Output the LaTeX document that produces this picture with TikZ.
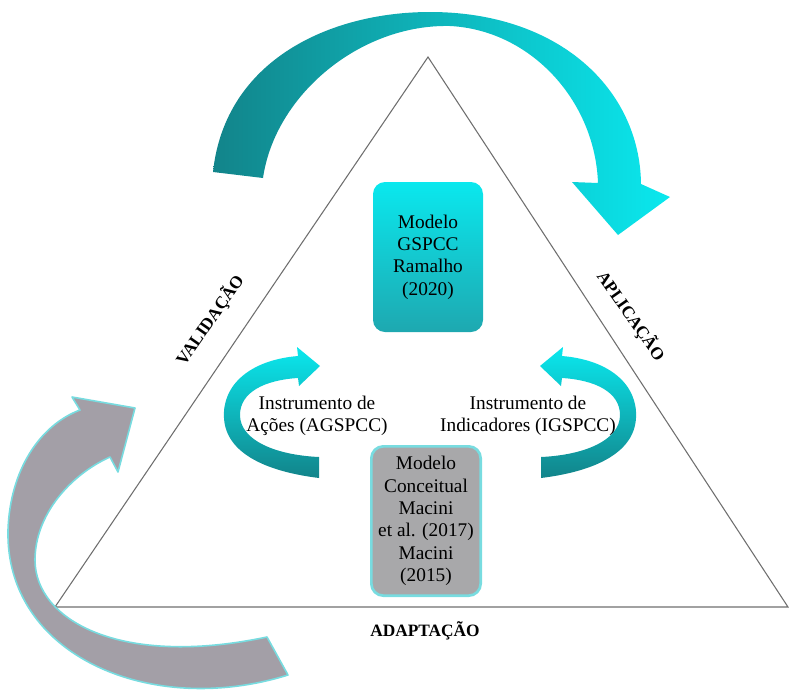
\documentclass[tikz,border=0pt]{standalone}
\usepackage{fontspec}
\setmainfont{Liberation Serif}
\definecolor{tealD}{RGB}{18,132,138}
\definecolor{cyanB}{RGB}{10,232,238}
\definecolor{tealM}{RGB}{30,168,176}
\definecolor{grayA}{RGB}{163,159,167}
\definecolor{grayB}{RGB}{168,168,170}
\definecolor{cyanL}{RGB}{120,220,224}
\definecolor{lineG}{RGB}{110,110,110}
\begin{document}
\begin{tikzpicture}[x=0.75pt,y=-0.75pt,
  tri/.style={draw=lineG, line width=0.8pt},
  boxtxt/.style={align=center, inner sep=0pt, font=\fontsize{14.5}{16.7}\selectfont},
  topbox/.style={boxtxt, rounded corners=9pt, minimum width=82.5pt, minimum height=112.5pt, top color=cyanB, bottom color=tealM},
  botbox/.style={boxtxt, rounded corners=9pt, minimum width=82pt, minimum height=112pt, fill=grayB, draw=cyanL, line width=2pt},
  lbl/.style={align=center, inner sep=0pt, font=\fontsize{14.5}{16.5}\selectfont},
  side/.style={inner sep=0pt, font=\fontsize{13}{15}\selectfont\bfseries},
  smallarr/.style={top color=cyanB, bottom color=tealD, draw=none},
]
\useasboundingbox (0,0) rectangle (790,697);

% triangle
\coordinate (apex) at (428,57);
\coordinate (bl) at (55,607);
\coordinate (br) at (788,607);
\draw[tri] (apex) -- (bl) -- (br) -- cycle;

% top curved arrow
\path[left color=tealD, right color=cyanB, shading angle=90]
  (213,172) .. controls (225,60) and (330,12) .. (430,12)
  .. controls (560,12) and (640,90) .. (641,184)
  -- (670,197) -- (618,235) -- (572,182) -- (598,183)
  .. controls (595,100) and (530,30) .. (450,26)
  .. controls (360,24) and (275,95) .. (263,178) -- cycle;

% bottom-left gray curved arrow
\path[fill=grayA, draw=cyanL, line width=1.2pt, line join=round]
  (288,675) .. controls (150,718) and (5,655) .. (8,530)
  .. controls (10,470) and (40,425) .. (80,410)
  -- (72,397) -- (135,408) -- (118,472) -- (110,457)
  .. controls (70,475) and (35,515) .. (35,560)
  .. controls (35,620) and (120,668) .. (267,637) -- cycle;

% small left arrow
\path[smallarr]
  (298,378) -- (299,386) -- (320,366) -- (297,347) -- (298,356)
  .. controls (250,360) and (222,385) .. (224,418)
  .. controls (226,455) and (270,472) .. (319,478)
  -- (319,457)
  .. controls (275,455) and (240,440) .. (240,415)
  .. controls (240,392) and (265,380) .. (298,378) -- cycle;

% small right arrow (mirror)
\begin{scope}[shift={(860,0)}, xscale=-1]
\path[smallarr]
  (298,378) -- (299,386) -- (320,366) -- (297,347) -- (298,356)
  .. controls (250,360) and (222,385) .. (224,418)
  .. controls (226,455) and (270,472) .. (319,478)
  -- (319,457)
  .. controls (275,455) and (240,440) .. (240,415)
  .. controls (240,392) and (265,380) .. (298,378) -- cycle;
\end{scope}

% boxes
\node[topbox] (gspcc) at (428,257) {Modelo\\GSPCC\\Ramalho\\(2020)};
\node[botbox] (macini) at (426,521) {Modelo\\Conceitual\\Macini\\et al. (2017)\\Macini\\(2015)};

% labels
\node[lbl] (acoes) at (317,416) {Instrumento de\\Ações (AGSPCC)};
\node[lbl] (indic) at (528,416) {Instrumento de\\Indicadores (IGSPCC)};

\node[side, rotate=55] (valid) at (210,320) {VALIDAÇÃO};
\node[side, rotate=-55] (aplic) at (631,316) {APLICAÇÃO};
\node[side] (adapt) at (425,631) {ADAPTAÇÃO};
\end{tikzpicture}
\end{document}
